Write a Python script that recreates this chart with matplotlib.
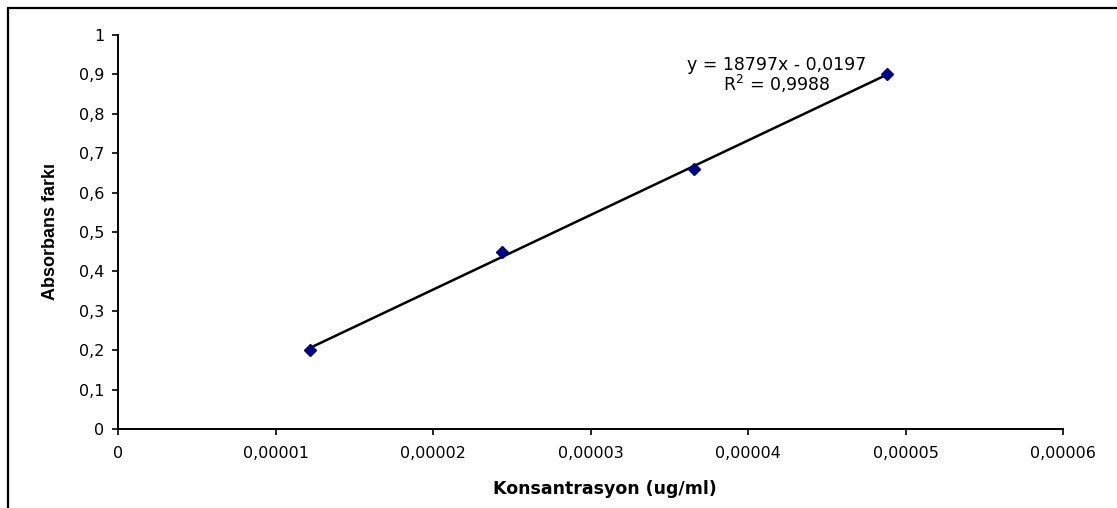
import numpy as np
import matplotlib
matplotlib.use("Agg")
import matplotlib.pyplot as plt
from matplotlib.patches import Rectangle
from matplotlib.ticker import FixedLocator

plt.rcParams['font.family'] = ['DejaVu Sans']

# Data
konsantrasyon = [0.0000122, 0.0000244, 0.0000366, 0.0000488]
absorbans = [0.20, 0.45, 0.66, 0.90]

x_ticks = [0, 0.00001, 0.00002, 0.00003, 0.00004, 0.00005, 0.00006]
x_labels = ["0", "0,00001", "0,00002", "0,00003", "0,00004", "0,00005", "0,00006"]
y_ticks = [0, 0.1, 0.2, 0.3, 0.4, 0.5, 0.6, 0.7, 0.8, 0.9, 1.0]
y_labels = ["0", "0,1", "0,2", "0,3", "0,4", "0,5", "0,6", "0,7", "0,8", "0,9", "1"]

fig = plt.figure(figsize=(11.17, 5.08), dpi=100)
fig.patches.append(Rectangle((8/1117, -0.1), 1.2, 1.1 - 8/508, transform=fig.transFigure,
                             fill=False, edgecolor="black", linewidth=1.6))
ax = fig.add_axes([118/1117, 1 - 429/508, (1063 - 118)/1117, (429 - 35)/508])

# Linear trendline through the points
slope, intercept = np.polyfit(konsantrasyon, absorbans, 1)
xs = np.array([konsantrasyon[0], konsantrasyon[-1]])
ax.plot(xs, slope * xs + intercept, color="black", linewidth=1.8, zorder=2)
ax.plot(konsantrasyon, absorbans, linestyle="none", marker="D", markersize=6.5,
        color="#000080", zorder=3)

ax.set_xlim(0, 0.00006)
ax.set_ylim(0, 1)
ax.xaxis.set_major_locator(FixedLocator(x_ticks))
ax.yaxis.set_major_locator(FixedLocator(y_ticks))
ax.set_xticklabels(x_labels)
ax.set_yticklabels(y_labels)
ax.tick_params(direction="out", length=4, width=1.2, labelsize=11.5)
ax.tick_params(axis="x", pad=8)
ax.tick_params(axis="y", pad=6)
for side in ["top", "right"]:
    ax.spines[side].set_visible(False)
for side in ["left", "bottom"]:
    ax.spines[side].set_linewidth(1.4)

ax.set_xlabel("Konsantrasyon (ug/ml)", fontsize=12.5, fontweight="bold")
ax.xaxis.set_label_coords(0.515, -0.13)
ax.set_ylabel("Absorbans farkı", fontsize=13, fontweight="bold", labelpad=14,
              family=["Liberation Sans Narrow", "Liberation Sans", "DejaVu Sans"])

ax.text(0.0000418, 0.925, "y = 18797x - 0,0197", fontsize=12.5, ha="center", va="center")
ax.text(0.0000418, 0.877, "R$^2$ = 0,9988", fontsize=12.5, ha="center", va="center")

fig.savefig("out.png", dpi=100)
